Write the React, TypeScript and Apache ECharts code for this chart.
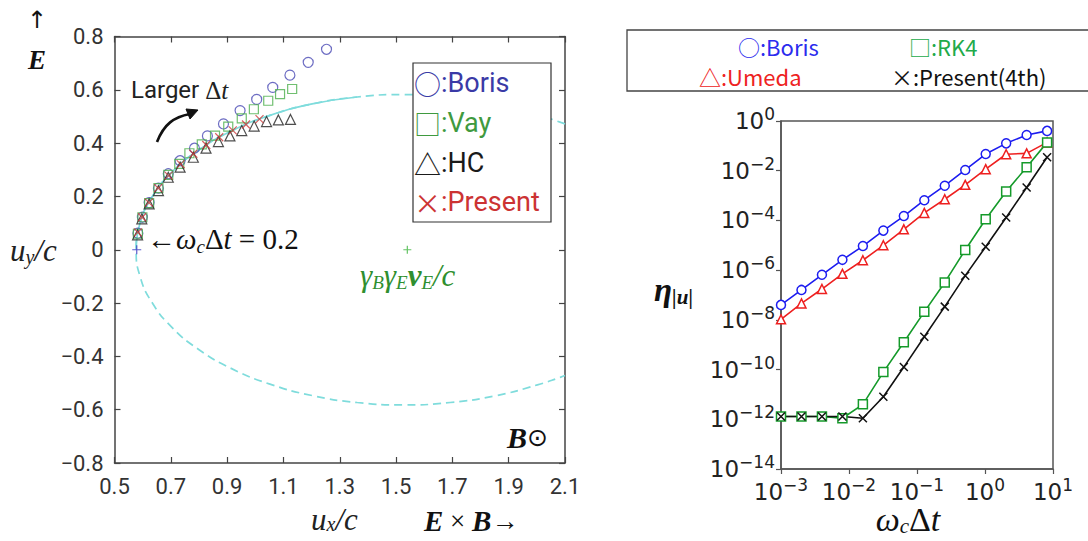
import React, { useEffect, useRef } from 'react';
import * as echarts from 'echarts';

// ---------- Left panel: trajectories in (u_x/c, u_y/c) ----------
const xTickValues = [0.5, 0.7, 0.9, 1.1, 1.3, 1.5, 1.7, 1.9, 2.1];
const borisPts = [
  [0.583, 0.062], [0.599, 0.122], [0.623, 0.177], [0.656, 0.231], [0.691, 0.285],
  [0.733, 0.334], [0.784, 0.381], [0.830, 0.427], [0.887, 0.472], [0.946, 0.522],
  [1.005, 0.564], [1.062, 0.609], [1.123, 0.655], [1.188, 0.703], [1.253, 0.752],
];
const vayPts = [
  [0.583, 0.060], [0.599, 0.122], [0.623, 0.175], [0.656, 0.231], [0.691, 0.281],
  [0.730, 0.322], [0.766, 0.362], [0.810, 0.395], [0.857, 0.428], [0.904, 0.462],
  [0.952, 0.493], [0.995, 0.527], [1.046, 0.559], [1.088, 0.584], [1.131, 0.603],
];
const hcPts = [
  [0.582, 0.056], [0.597, 0.116], [0.623, 0.172], [0.656, 0.222], [0.691, 0.272],
  [0.733, 0.310], [0.780, 0.347], [0.825, 0.381], [0.869, 0.406], [0.910, 0.427],
  [0.952, 0.447], [0.996, 0.464], [1.040, 0.481], [1.082, 0.487], [1.125, 0.489],
];
const presentPts = [
  [0.583, 0.065], [0.598, 0.122], [0.622, 0.177], [0.655, 0.231], [0.692, 0.278],
  [0.735, 0.321], [0.780, 0.360], [0.826, 0.393], [0.872, 0.422], [0.920, 0.448],
  [0.967, 0.470], [1.015, 0.490],
];
const initialPt = [[0.579, 0.0]];
const driftCenterPt = [[1.54, 0.0]];
// exact orbit
const exactOrbitDashed = [
  [2.1, 0.472], [2.085, 0.478], [2.002, 0.507], [1.852, 0.548], [1.692, 0.573],
  [1.527, 0.582], [1.362, 0.573], [1.202, 0.547], [1.052, 0.504], [0.916, 0.446],
  [0.799, 0.374], [0.704, 0.291], [0.634, 0.199], [0.591, 0.101], [0.577, 0.0],
  [0.591, -0.101], [0.634, -0.199], [0.704, -0.291], [0.799, -0.374], [0.916, -0.446],
  [1.052, -0.504], [1.202, -0.547], [1.362, -0.573], [1.527, -0.582], [1.692, -0.573],
  [1.852, -0.548], [2.002, -0.507], [2.085, -0.478], [2.1, -0.472],
];
const exactOrbitSolid = [
  [0.577, 0.0], [0.591, 0.101], [0.634, 0.199], [0.704, 0.291], [0.799, 0.374],
  [0.916, 0.446], [1.052, 0.504], [1.202, 0.547], [1.362, 0.573],
];

// ---------- Right panel: error vs omega_c * dt ----------
const dtValues = [0.001, 0.002, 0.004, 0.008, 0.016, 0.032, 0.064, 0.128, 0.256, 0.512, 1.024, 2.048, 4.096, 8.192];
const borisEta = [4.0e-8, 1.6e-7, 6.5e-7, 2.6e-6, 9.3e-6, 3.9e-5, 1.5e-4, 6.5e-4, 2.5e-3, 1.07e-2, 4.7e-2, 0.126, 0.275, 0.40];
const umedaEta = [1.05e-8, 4.6e-8, 1.74e-7, 7.1e-7, 2.5e-6, 1.0e-5, 4.4e-5, 2.0e-4, 7.1e-4, 2.7e-3, 1.15e-2, 4.6e-2, 5.0e-2, 0.138];
const rk4Eta = [1.3e-12, 1.3e-12, 1.3e-12, 1.1e-12, 4.0e-12, 7.9e-11, 1.26e-9, 2.1e-8, 3.2e-7, 6.5e-6, 1.12e-4, 1.45e-3, 1.38e-2, 0.138];
const presentEta = [1.3e-12, 1.3e-12, 1.3e-12, 1.3e-12, 1.1e-12, 8.1e-12, 1.26e-10, 2.1e-9, 3.4e-8, 6.0e-7, 8.7e-6, 1.32e-4, 2.1e-3, 3.5e-2];
const logXTicks = [1e-3, 1e-2, 1e-1, 1, 10];
const logYTicks = [1e-14, 1e-12, 1e-10, 1e-8, 1e-6, 1e-4, 1e-2, 1];

const SANS = 'Roboto, "Liberation Sans", sans-serif';
const SERIF = '"Liberation Serif", "DejaVu Serif", serif';
const CJK = '"Noto Sans CJK JP", "Noto Sans", sans-serif';
const MSANS = '"DejaVu Sans", sans-serif';

const C_BORIS_L = '#4848b4';
const C_VAY_L = '#4caf4c';
const C_HC_L = '#222222';
const C_PRES_L = '#cc3a3a';
const C_CYAN = '#7fdcdc';

const C_BORIS_R = '#1c1cf0';
const C_UMEDA_R = '#ee2020';
const C_RK4_R = '#159a2a';
const C_PRES_R = '#111111';

const X_PATH = 'path://M0,0L10,10M0,10L10,0';
const PLUS_PATH = 'path://M5,0L5,10M0,5L10,5';
const AXC = '#444';

function fmtLeftY(v: number) {
  if (Math.abs(v) < 1e-9) return '0';
  return (v < 0 ? '\u2212' : '') + Math.abs(v).toFixed(1);
}
function fmtPow(v: number) {
  const e = Math.round(Math.log10(v));
  const s = e < 0 ? '\u2212' + Math.abs(e) : String(e);
  return '{b|10}{s|' + s + '}';
}
const powRich = {
  b: { fontSize: 23, fontFamily: MSANS, color: '#222' },
  s: { fontSize: 17, fontFamily: MSANS, color: '#222', padding: [0, 0, 14, 0] },
};

function buildOption() {
  const leftScatter = (name: string, data: number[][], symbol: string, size: number, color: string) => ({
    name,
    type: 'scatter',
    xAxisIndex: 0,
    yAxisIndex: 0,
    data,
    symbol,
    symbolSize: size,
    itemStyle: { color: 'transparent', borderColor: color, borderWidth: 1.2 },
    z: 5,
  });
  const rightLine = (name: string, ys: number[], symbol: string, size: number, color: string, fill: string) => ({
    name,
    type: 'line',
    xAxisIndex: 2,
    yAxisIndex: 2,
    data: dtValues.map((x, i) => [x, ys[i]]),
    symbol,
    symbolSize: size,
    showAllSymbol: true,
    lineStyle: { color, width: 1.6 },
    itemStyle: { color: fill, borderColor: color, borderWidth: 1.5 },
    z: 5,
  });

  return {
    animation: false,
    backgroundColor: '#fff',
    grid: [
      { left: 114.5, top: 36.5, width: 450.5, height: 426.5, show: false },
      { left: 781, top: 121, width: 272, height: 348, show: true, borderColor: '#555', borderWidth: 1.5, backgroundColor: 'transparent' },
    ],
    xAxis: [
      {
        gridIndex: 0, type: 'value', min: 0.5, max: 2.1, position: 'bottom',
        axisLine: { show: true, onZero: false, lineStyle: { color: AXC, width: 1.5 } },
        axisTick: { show: true, inside: true, length: 6, customValues: xTickValues, lineStyle: { color: AXC, width: 1.2 } },
        axisLabel: { show: true, customValues: xTickValues, margin: 12, fontFamily: SANS, fontSize: 22, color: '#333', formatter: (v: number) => v.toFixed(1) },
        splitLine: { show: false },
      },
      {
        gridIndex: 0, type: 'value', min: 0.5, max: 2.1, position: 'top',
        axisLine: { show: true, onZero: false, lineStyle: { color: AXC, width: 1.5 } },
        axisTick: { show: true, inside: true, length: 6, customValues: xTickValues, lineStyle: { color: AXC, width: 1.2 } },
        axisLabel: { show: false },
        splitLine: { show: false },
      },
      {
        gridIndex: 1, type: 'log', logBase: 10, min: 1e-3, max: 10, position: 'bottom',
        axisLine: { show: true, onZero: false, lineStyle: { color: '#555', width: 1.5 } },
        axisTick: { show: true, inside: false, length: 5, customValues: logXTicks, lineStyle: { color: '#555', width: 1.2 } },
        minorTick: { show: false },
        axisLabel: { show: true, customValues: logXTicks, margin: 7, formatter: fmtPow, rich: powRich },
        splitLine: { show: false },
      },
    ],
    yAxis: [
      {
        gridIndex: 0, type: 'value', min: -0.8, max: 0.8, interval: 0.2, position: 'left',
        axisLine: { show: true, onZero: false, lineStyle: { color: AXC, width: 1.5 } },
        axisTick: { show: true, inside: true, length: 6, lineStyle: { color: AXC, width: 1.2 } },
        axisLabel: { show: true, margin: 11, fontFamily: SANS, fontSize: 22, color: '#333', formatter: fmtLeftY },
        splitLine: { show: false },
      },
      {
        gridIndex: 0, type: 'value', min: -0.8, max: 0.8, interval: 0.2, position: 'right',
        axisLine: { show: true, onZero: false, lineStyle: { color: AXC, width: 1.5 } },
        axisTick: { show: true, inside: true, length: 6, lineStyle: { color: AXC, width: 1.2 } },
        axisLabel: { show: false },
        splitLine: { show: false },
      },
      {
        gridIndex: 1, type: 'log', logBase: 10, min: 1e-14, max: 1, position: 'left',
        axisLine: { show: true, onZero: false, lineStyle: { color: '#555', width: 1.5 } },
        axisTick: { show: true, inside: false, length: 5, customValues: logYTicks, lineStyle: { color: '#555', width: 1.2 } },
        minorTick: { show: false },
        axisLabel: { show: true, customValues: logYTicks, margin: 6, formatter: fmtPow, rich: powRich },
        splitLine: { show: false },
      },
    ],
    series: [
      {
        name: 'exact (dashed)', type: 'line', xAxisIndex: 0, yAxisIndex: 0, data: exactOrbitDashed,
        symbol: 'none', smooth: true, lineStyle: { color: C_CYAN, width: 1.7, type: [8, 5] }, z: 2,
      },
      {
        name: 'exact (solid)', type: 'line', xAxisIndex: 0, yAxisIndex: 0, data: exactOrbitSolid,
        symbol: 'none', smooth: true, lineStyle: { color: C_CYAN, width: 1.7 }, z: 2,
      },
      leftScatter('Boris', borisPts, 'circle', 10, C_BORIS_L),
      leftScatter('Vay', vayPts, 'rect', 9, C_VAY_L),
      leftScatter('HC', hcPts, 'triangle', 10, C_HC_L),
      leftScatter('Present', presentPts, X_PATH, 8, C_PRES_L),
      leftScatter('initial', initialPt, PLUS_PATH, 9, '#3535c0'),
      leftScatter('drift', driftCenterPt, PLUS_PATH, 8, '#3db43d'),
      rightLine('Boris', borisEta, 'circle', 9, C_BORIS_R, '#fff'),
      rightLine('Umeda', umedaEta, 'triangle', 9, C_UMEDA_R, '#fff'),
      rightLine('RK4', rk4Eta, 'rect', 9, C_RK4_R, '#fff'),
      rightLine('Present(4th)', presentEta, X_PATH, 8, C_PRES_R, 'transparent'),
    ],
    graphic: [
      // left panel annotations
      { type: 'text', x: 37, y: 20, style: { text: '\u2191', font: '24px "DejaVu Sans"', fill: '#111', align: 'center', verticalAlign: 'middle' } },
      { type: 'text', x: 37, y: 60, style: { text: 'E', font: 'italic bold 27px ' + SERIF, fill: '#111', align: 'center', verticalAlign: 'middle' } },
      {
        type: 'text', x: 10, y: 250,
        style: {
          text: '{i|u}{sub|y}{i|/c}', verticalAlign: 'middle',
          rich: {
            i: { fontFamily: SERIF, fontStyle: 'italic', fontSize: 31, fill: '#222' },
            sub: { fontFamily: SERIF, fontStyle: 'italic', fontSize: 20, fill: '#222', padding: [14, 0, 0, 0] },
          },
        },
      },
      {
        type: 'text', x: 311, y: 519,
        style: {
          text: '{i|u}{sub|x}{i|/c}', verticalAlign: 'middle',
          rich: {
            i: { fontFamily: SERIF, fontStyle: 'italic', fontSize: 31, fill: '#222', lineHeight: 30 },
            sub: { fontFamily: SERIF, fontStyle: 'italic', fontSize: 20, fill: '#222', padding: [10, 0, 0, 0], lineHeight: 20 },
          },
        },
      },
      {
        type: 'text', x: 424, y: 521,
        style: {
          text: '{b|E}{n| \u00d7 }{b|B}{n|\u2192}', verticalAlign: 'middle',
          rich: {
            b: { fontFamily: SERIF, fontStyle: 'italic', fontWeight: 'bold', fontSize: 29, fill: '#111', lineHeight: 30 },
            n: { fontFamily: SERIF, fontSize: 27, fill: '#111', lineHeight: 30 },
          },
        },
      },
      {
        type: 'text', x: 131, y: 90,
        style: {
          text: '{s|Larger }{m|\u0394}{mi|t}', verticalAlign: 'middle',
          rich: {
            s: { fontFamily: SANS, fontSize: 24, fill: '#222' },
            m: { fontFamily: SERIF, fontSize: 25, fill: '#222' },
            mi: { fontFamily: SERIF, fontStyle: 'italic', fontSize: 25, fill: '#222' },
          },
        },
      },
      {
        type: 'bezierCurve',
        shape: { x1: 157, y1: 142, cpx1: 164, cpy1: 124, cpx2: 174, cpy2: 117, x2: 190, y2: 114 },
        style: { stroke: '#111', lineWidth: 2.6, fill: null },
      },
      {
        type: 'polygon',
        shape: { points: [[198, 110], [190, 119], [186, 109]] },
        style: { fill: '#111', stroke: '#111', lineWidth: 1 },
      },
      {
        type: 'text', x: 147, y: 239,
        style: {
          text: '{n|\u2190}{i|\u03c9}{sub|c}{n|\u0394}{i|t}{n| = 0.2}', verticalAlign: 'middle',
          rich: {
            n: { fontFamily: SERIF, fontSize: 29, fill: '#111' },
            i: { fontFamily: SERIF, fontStyle: 'italic', fontSize: 29, fill: '#111' },
            sub: { fontFamily: SERIF, fontStyle: 'italic', fontSize: 19, fill: '#111', padding: [14, 0, 0, 0] },
          },
        },
      },
      {
        type: 'text', x: 360, y: 275,
        style: {
          text: '{i|\u03b3}{sub|B}{i|\u03b3}{sub|E}{b|v}{sub|E}{i|/c}', verticalAlign: 'middle',
          rich: {
            i: { fontFamily: SERIF, fontStyle: 'italic', fontSize: 31, fill: '#2f8f2f' },
            b: { fontFamily: SERIF, fontStyle: 'italic', fontWeight: 'bold', fontSize: 31, fill: '#2f8f2f' },
            sub: { fontFamily: SERIF, fontStyle: 'italic', fontSize: 19, fill: '#2f8f2f', padding: [14, 0, 0, 0] },
          },
        },
      },
      {
        type: 'text', x: 507, y: 437,
        style: {
          text: '{b|B}{o|\u2299}', verticalAlign: 'middle',
          rich: {
            b: { fontFamily: SERIF, fontStyle: 'italic', fontWeight: 'bold', fontSize: 30, fill: '#111' },
            o: { fontFamily: '"DejaVu Sans"', fontSize: 25, fill: '#111' },
          },
        },
      },
      // left legend
      { type: 'rect', shape: { x: 413, y: 63, width: 138, height: 159 }, style: { fill: '#fff', stroke: '#333', lineWidth: 1.2 }, z: 10 },
      ...[
        ['\u25cb', ':Boris', '#3a3aa6', 83],
        ['\u25a1', ':Vay', '#3f9a3f', 123],
        ['\u25b3', ':HC', '#1a1a1a', 163],
        ['\u00d7', ':Present', '#cc3333', 202],
      ].map(([sym, label, col, y]) => ({
        type: 'text', x: 414, y: y as number, z: 11,
        style: {
          text: '{s|' + sym + '}{t|' + label + '}', verticalAlign: 'middle',
          rich: {
            s: { fontFamily: CJK, fontSize: 27, fill: col as string, lineHeight: 32 },
            t: { fontFamily: SANS, fontSize: 27, fill: col as string, lineHeight: 32 },
          },
        },
      })),
      // right legend
      { type: 'rect', shape: { x: 627, y: 30, width: 480, height: 61 }, style: { fill: '#fff', stroke: '#444', lineWidth: 1.3 }, z: 10 },
      ...[
        ['\u25cb:Boris', '#2b2bee', 738, 46],
        ['\u25a1:RK4', '#22aa4a', 909, 46],
        ['\u25b3:Umeda', '#ee2222', 699, 76],
        ['\u00d7:Present(4th)', '#111111', 891, 76],
      ].map(([label, col, x, y]) => ({
        type: 'text', x: x as number, y: y as number, z: 11,
        style: { text: label as string, font: '22px ' + CJK, fill: col as string, verticalAlign: 'middle', lineHeight: 24 },
      })),
      // right axis names
      {
        type: 'text', x: 654, y: 290,
        style: {
          text: '{e|\u03b7}{sub||u|}', verticalAlign: 'middle',
          rich: {
            e: { fontFamily: SERIF, fontStyle: 'italic', fontWeight: 'bold', fontSize: 33, fill: '#111' },
            sub: { fontFamily: SERIF, fontStyle: 'italic', fontWeight: 'bold', fontSize: 21, fill: '#111', padding: [14, 0, 0, 0] },
          },
        },
      },
      {
        type: 'text', x: 908, y: 519,
        style: {
          text: '{i|\u03c9}{sub|c}{n|\u0394}{i|t}', align: 'center', verticalAlign: 'middle',
          rich: {
            i: { fontFamily: SERIF, fontStyle: 'italic', fontSize: 34, fill: '#111' },
            n: { fontFamily: SERIF, fontSize: 34, fill: '#111' },
            sub: { fontFamily: SERIF, fontStyle: 'italic', fontSize: 21, fill: '#111', padding: [14, 0, 0, 0] },
          },
        },
      },
    ],
  };
}

export default function App() {
  const ref = useRef<HTMLDivElement>(null);
  useEffect(() => {
    document.body.style.margin = '0';
    const chart = echarts.init(ref.current as HTMLDivElement, null, { renderer: 'svg' });
    chart.setOption(buildOption() as any);
    return () => chart.dispose();
  }, []);
  return <div ref={ref} style={{ width: 1088, height: 541 }} />;
}
